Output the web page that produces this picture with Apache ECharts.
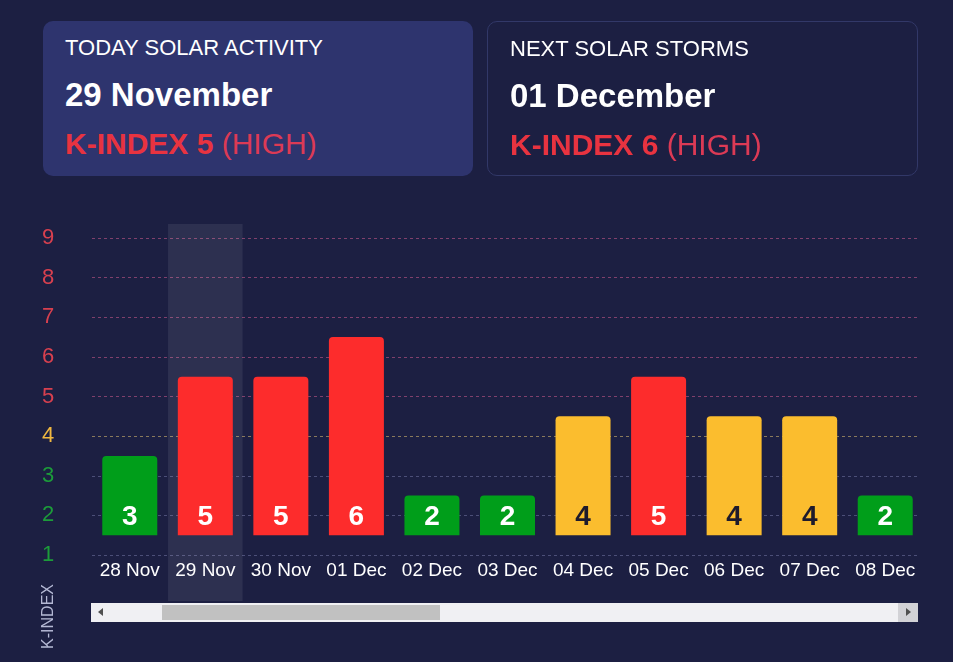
<!DOCTYPE html>
<html>
<head>
<meta charset="utf-8">
<script src="https://cdn.jsdelivr.net/npm/echarts@6/dist/echarts.min.js"></script>
<style>
  html, body { margin: 0; padding: 0; background: #1c1f42; width: 953px; height: 662px; overflow: hidden; font-family: "Liberation Sans", Arial, sans-serif; }
  #wrap { position: absolute; left: 0; top: 0; width: 918px; height: 662px; overflow: hidden; }
  #chart { position: absolute; left: 0; top: 0; width: 953px; height: 662px; }
  .card { position: absolute; top: 21px; height: 155px; border-radius: 10px; box-sizing: border-box; z-index: 2; }
  .c1 { left: 43px; width: 430px; background: #2e346e; }
  .c2 { left: 487px; width: 431px; border: 1px solid #323868; }
  .t { position: absolute; white-space: nowrap; color: #ffffff; }
  .t1 { font-size: 22px; line-height: 22px; top: 16px; }
  .t2 { font-size: 33px; line-height: 33px; top: 57px; font-weight: bold; }
  .t3 { font-size: 30px; line-height: 30px; top: 108px; color: #dc3a55; }
  .t3 b { color: #e83340; }
  .sb { position: absolute; left: 91px; top: 603px; width: 827px; height: 19px; background: #f0f0f3; z-index: 2; }
  .thumb { position: absolute; left: 71px; top: 2px; width: 278px; height: 15px; background: #c1c1c1; }
  .rb { position: absolute; right: 0; top: 0; width: 20px; height: 19px; background: #d2d2d6; }
  .al { position: absolute; left: 7px; top: 5px; width: 0; height: 0; border-top: 4.5px solid transparent; border-bottom: 4.5px solid transparent; border-right: 5px solid #505050; }
  .ar { position: absolute; left: 8px; top: 5px; width: 0; height: 0; border-top: 4.5px solid transparent; border-bottom: 4.5px solid transparent; border-left: 5px solid #505050; }
</style>
</head>
<body>
<div class="card c1">
  <div class="t t1" style="left:22px">TODAY SOLAR ACTIVITY</div>
  <div class="t t2" style="left:22px">29 November</div>
  <div class="t t3" style="left:22px"><b>K-INDEX 5</b> (HIGH)</div>
</div>
<div class="card c2">
  <div class="t t1" style="left:22px">NEXT SOLAR STORMS</div>
  <div class="t t2" style="left:22px">01 December</div>
  <div class="t t3" style="left:22px"><b>K-INDEX 6</b> (HIGH)</div>
</div>
<div id="wrap"><div id="chart"></div></div>
<div class="sb"><div class="al"></div><div class="thumb"></div><div class="rb"><div class="ar"></div></div></div>
<script>
const categories = ['28 Nov', '29 Nov', '30 Nov', '01 Dec', '02 Dec', '03 Dec', '04 Dec', '05 Dec', '06 Dec', '07 Dec', '08 Dec'];
const kIndex = [3, 5, 5, 6, 2, 2, 4, 5, 4, 4, 2];
const todayIndex = 1;
const yTicks = [1, 2, 3, 4, 5, 6, 7, 8, 9];

const RED = '#fd2c2c', YELLOW = '#fbbd2e', GREEN = '#009e1a';
function levelColor(k) { return k >= 5 ? RED : (k === 4 ? YELLOW : GREEN); }
function tickColor(v) { return v >= 5 ? '#d8404f' : (v === 4 ? '#f0b840' : '#1c9c3a'); }
function lineColor(v) { return v >= 5 ? '#80406c' : (v === 4 ? '#8a7a5c' : '#4c4f78'); }

const FONT = '"Liberation Sans", Arial, sans-serif';
const BASE = 1.5;
const chart = echarts.init(document.getElementById('chart'), null, { renderer: 'canvas' });
chart.setOption({
  backgroundColor: 'transparent',
  animation: false,
  grid: { left: 92, top: 238, width: 831, bottom: 107, containLabel: false },
  xAxis: {
    type: 'category',
    data: categories,
    axisLine: { show: false },
    axisTick: { show: false },
    axisLabel: { color: '#ffffff', fontSize: 19, margin: 6, interval: 0, hideOverlap: false, fontFamily: FONT },
    splitLine: { show: false }
  },
  yAxis: {
    type: 'value',
    min: yTicks[0],
    max: yTicks[yTicks.length - 1],
    interval: 1,
    axisLine: { show: false },
    axisTick: { show: false },
    axisLabel: {
      fontSize: 22, margin: 44, align: 'center', fontFamily: FONT,
      color: v => tickColor(Number(v))
    },
    splitLine: { show: true, lineStyle: { type: [3, 3], width: 1, color: yTicks.map(lineColor) } }
  },
  graphic: [{
    type: 'text', left: 41, top: 584, rotation: Math.PI / 2,
    style: { text: 'K-INDEX', fill: '#b4b8d4', fontSize: 16, fontFamily: FONT }
  }],
  series: [
    {
      type: 'custom',
      z: 0,
      silent: true,
      clip: false,
      data: [[todayIndex]],
      encode: { x: 0 },
      renderItem: function (params, api) {
        const i = api.value(0);
        const top = api.coord([i, yTicks[yTicks.length - 1]]);
        const bottom = api.coord([i, yTicks[0]]);
        const w = api.size([1, 0])[0];
        return {
          type: 'rect',
          shape: { x: top[0] - w / 2 + 0.5, y: top[1] - 14, width: w - 1, height: bottom[1] - top[1] + 60 },
          style: { fill: 'rgba(255,255,255,0.08)' }
        };
      }
    },
    {
      type: 'bar',
      stack: 'k',
      silent: true,
      barWidth: 55,
      data: kIndex.map(() => BASE),
      itemStyle: { color: 'transparent' }
    },
    {
      type: 'bar',
      stack: 'k',
      barWidth: 55,
      z: 3,
      data: kIndex.map(k => ({
        value: k - 1,
        itemStyle: { color: levelColor(k), borderRadius: [4, 4, 0, 0] },
        label: { color: k === 4 ? '#1e1b2c' : '#ffffff' }
      })),
      label: {
        show: true,
        position: 'insideBottom',
        distance: 4,
        fontSize: 28,
        fontWeight: 'bold',
        fontFamily: FONT,
        formatter: p => String(kIndex[p.dataIndex])
      }
    }
  ]
});
</script>
</body>
</html>
